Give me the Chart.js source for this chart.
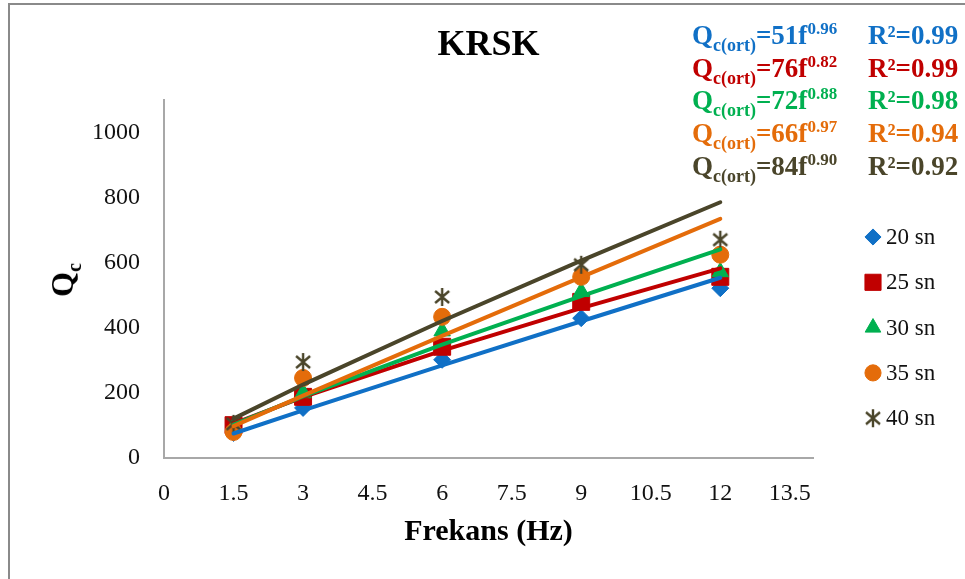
<!DOCTYPE html>
<html>
<head>
<meta charset="utf-8">
<title>KRSK</title>
<script src="https://cdn.jsdelivr.net/npm/chart.js@4.4.1/dist/chart.umd.min.js"></script>
<style>
  body { margin: 0; background: #fff; }
  #wrap { position: relative; width: 965px; height: 579px; overflow: hidden; font-family: "Liberation Serif", "Times New Roman", serif; }
  #frame { position: absolute; left: 8px; top: 3px; width: 1000px; height: 1000px; border: 2px solid #8a8a8a; }
  #krskChart { position: absolute; left: 0; top: 0; }
  .eq { position: absolute; font-weight: bold; font-size: 27px; line-height: 27px; white-space: nowrap; }
  .eq .sb { font-size: 18px; position: relative; top: 7px; }
  .eq .sp { font-size: 17px; position: relative; top: -10px; }
  #ytitle { position: absolute; left: 64px; top: 280px; transform: translate(-50%, -50%) rotate(-90deg);
            font-weight: bold; font-size: 32px; line-height: 32px; white-space: nowrap; color: #000; }
  #ytitle .sb { font-size: 20px; position: relative; top: 8px; }
</style>
</head>
<body>
<div id="wrap">
  <div id="frame"></div>
  <canvas id="krskChart" width="965" height="579"></canvas>
  <div id="ytitle">Q<span class="sb">c</span></div>
</div>
<script>
// frequency steps (Hz) and measured Qc for each duration
const freqs = [1.5, 3, 6, 9, 12];
const seriesNames = ['20 sn', '25 sn', '30 sn', '35 sn', '40 sn'];
const q20 = [77, 154, 302, 430, 522];
const q25 = [101, 188, 342, 480, 557];
const q30 = [95, 200, 390, 511, 572];
const q35 = [80, 246, 434, 557, 625];
const q40 = [105, 295, 495, 594, 671];
const seriesValues = [q20, q25, q30, q35, q40];

// power fits Qc(ort) = a * f^b
const coefA = [51, 76, 72, 66, 84];
const coefB = [0.96, 0.82, 0.88, 0.97, 0.90];
const rSquared = [0.99, 0.99, 0.98, 0.94, 0.92];

const xTicks = [0, 1.5, 3, 4.5, 6, 7.5, 9, 10.5, 12, 13.5];
const yTicks = [0, 200, 400, 600, 800, 1000];

const colors = ['#1070C6', '#C00000', '#00B050', '#E46C0A', '#4A452A'];
const serif = '"Liberation Serif", "Times New Roman", serif';

// asterisk marker: X with a vertical bar
function starMarker(color) {
  const c = document.createElement('canvas');
  c.width = 20; c.height = 20;
  const g = c.getContext('2d');
  g.strokeStyle = color;
  g.lineWidth = 2.4;
  g.beginPath();
  g.moveTo(10, 1); g.lineTo(10, 19);
  g.moveTo(3, 4); g.lineTo(17, 16);
  g.moveTo(17, 4); g.lineTo(3, 16);
  g.stroke();
  return c;
}

const pointStyles = ['rectRot', 'rect', 'triangle', 'circle', starMarker(colors[4])];
const radii = [8.5, 12, 9.5, 8.5, 9];

const markerSets = seriesNames.map((name, i) => ({
  label: name,
  data: freqs.map((f, j) => ({ x: f, y: seriesValues[i][j] })),
  pointStyle: pointStyles[i],
  pointRadius: radii[i],
  pointHoverRadius: radii[i],
  backgroundColor: colors[i],
  borderColor: colors[i],
  borderWidth: 1,
  showLine: false,
  order: 10 - i
}));

const trendSets = seriesNames.map((name, i) => ({
  label: name + ' fit',
  data: freqs.map(f => ({ x: f, y: coefA[i] * Math.pow(f, coefB[i]) })),
  showLine: true,
  pointRadius: 0,
  borderColor: colors[i],
  borderWidth: 4,
  borderCapStyle: 'round',
  tension: 0,
  fill: false,
  order: -i
}));

// legend on the right, drawn with the same point styles
const sideLegend = {
  id: 'sideLegend',
  afterDraw(chart) {
    const ctx = chart.ctx;
    ctx.save();
    seriesNames.forEach((name, i) => {
      const y = 237 + i * 45.3;
      ctx.fillStyle = colors[i];
      ctx.strokeStyle = colors[i];
      ctx.lineWidth = 1;
      Chart.helpers.drawPoint(ctx, { pointStyle: pointStyles[i], radius: radii[i] * 0.95, rotation: 0, borderWidth: 1 }, 873, y);
      ctx.fillStyle = '#111';
      ctx.font = '23px ' + serif;
      ctx.textBaseline = 'middle';
      ctx.textAlign = 'left';
      ctx.fillText(name, 886, y + 1);
    });
    ctx.restore();
  }
};

new Chart(document.getElementById('krskChart'), {
  type: 'scatter',
  data: { datasets: [...trendSets, ...markerSets] },
  plugins: [sideLegend],
  options: {
    responsive: false,
    animation: false,
    layout: { padding: { top: 0, right: 152, bottom: 0, left: 0 } },
    plugins: {
      legend: { display: false },
      tooltip: { enabled: false },
      title: {
        display: true,
        text: 'KRSK',
        fullSize: false,
        color: '#000',
        font: { family: serif, size: 36, weight: 'bold' },
        padding: { top: 24, bottom: 33 }
      }
    },
    scales: {
      x: {
        type: 'linear',
        min: 0,
        max: 14,
        afterBuildTicks: s => { s.ticks = xTicks.map(v => ({ value: v })); },
        afterFit: s => { s.height = 121; },
        ticks: {
          autoSkip: false,
          maxRotation: 0,
          padding: 21,
          color: '#111',
          font: { family: serif, size: 24 },
          callback: v => String(v)
        },
        grid: { display: false, drawTicks: false },
        border: { color: '#a8a8a8', width: 2 },
        title: {
          display: true,
          text: 'Frekans (Hz)',
          color: '#000',
          font: { family: serif, size: 30, weight: 'bold' },
          padding: { top: 0, bottom: 29 }
        }
      },
      y: {
        min: 0,
        max: 1100,
        afterBuildTicks: s => { s.ticks = yTicks.map(v => ({ value: v })); },
        afterFit: s => { s.width = 164; },
        ticks: {
          padding: 24,
          color: '#111',
          font: { family: serif, size: 24 },
          callback: v => String(v)
        },
        grid: { display: false, drawTicks: false },
        border: { color: '#a8a8a8', width: 2 }
      }
    }
  }
});

// fit equations and R² in the top-right corner
const wrap = document.getElementById('wrap');
seriesNames.forEach((name, i) => {
  const top = 22 + i * 32.7;
  const eq = document.createElement('div');
  eq.className = 'eq';
  eq.style.left = '692px';
  eq.style.top = top + 'px';
  eq.style.color = colors[i];
  eq.innerHTML = 'Q<span class="sb">c(ort)</span>=' + coefA[i] + 'f<span class="sp">' + coefB[i].toFixed(2) + '</span>';
  wrap.appendChild(eq);
  const r2 = document.createElement('div');
  r2.className = 'eq';
  r2.style.left = '868px';
  r2.style.top = top + 'px';
  r2.style.color = colors[i];
  r2.textContent = 'R²=' + rSquared[i].toFixed(2);
  wrap.appendChild(r2);
});
</script>
</body>
</html>
